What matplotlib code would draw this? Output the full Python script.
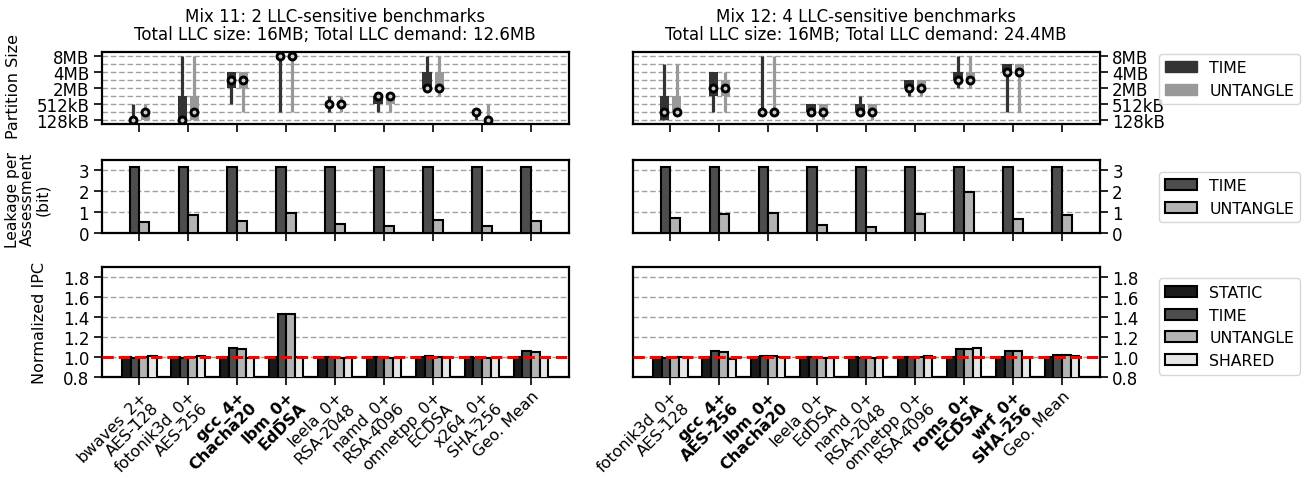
import numpy as np
import matplotlib
matplotlib.use('Agg')
import matplotlib.pyplot as plt
from matplotlib.patches import Patch

plt.rcParams.update({
    'font.family': 'DejaVu Sans',
    'font.size': 12,
    'axes.linewidth': 1.6,
    'xtick.major.width': 1.2,
    'ytick.major.width': 1.2,
    'xtick.major.size': 5.5,
    'ytick.major.size': 5.5,
    'legend.fontsize': 11.3,
})

# ---------------------------------------------------------------
# data
# ---------------------------------------------------------------
size_labels = ['128kB', '512kB', '2MB', '4MB', '8MB']   # at even indices 0..8

mix11_labels = ['bwaves_2+\nAES-128', 'fotonik3d_0+\nAES-256', 'gcc_4+\nChacha20',
                'lbm_0+\nEdDSA', 'leela_0+\nRSA-2048', 'namd_0+\nRSA-4096',
                'omnetpp_0+\nECDSA', 'x264_0+\nSHA-256', 'Geo. Mean']
mix11_bold = [2, 3]
mix12_labels = ['fotonik3d_0+\nAES-128', 'gcc_4+\nAES-256', 'lbm_0+\nChacha20',
                'leela_0+\nEdDSA', 'namd_0+\nRSA-2048', 'omnetpp_0+\nRSA-4096',
                'roms_0+\nECDSA', 'wrf_0+\nSHA-256', 'Geo. Mean']
mix12_bold = [1, 2, 6, 7]

# partition size distribution (index: 0=128kB ... 8=8MB), 8 benchmarks each
m11_time_wlo = [0, 0, 2, 1, 1, 1, 4, 0]
m11_time_whi = [2, 8, 6, 8, 3, 3, 8, 1]
m11_time_blo = [0, 0, 4, 8, 2, 2, 4, 1]
m11_time_bhi = [0, 3, 6, 8, 2, 3, 6, 1]
m11_time_mark = [0, 0, 5, 8, 2, 3, 4, 1]
m11_unt_wlo = [0, 0, 1, 1, 1, 1, 3, 0]
m11_unt_whi = [2, 8, 6, 8, 3, 3, 8, 2]
m11_unt_blo = [0, 0, 4, 8, 2, 2, 4, 0]
m11_unt_bhi = [1, 3, 6, 8, 2, 3, 6, 0]
m11_unt_mark = [1, 1, 5, 8, 2, 3, 4, 0]

m12_time_wlo = [0, 1, 1, 1, 1, 3, 4, 1]
m12_time_whi = [7, 6, 8, 2, 3, 5, 8, 7]
m12_time_blo = [0, 3, 1, 1, 1, 4, 5, 6]
m12_time_bhi = [3, 6, 1, 2, 2, 5, 6, 7]
m12_time_mark = [1, 4, 1, 1, 1, 4, 5, 6]
m12_unt_wlo = [1, 1, 1, 0, 0, 3, 4, 1]
m12_unt_whi = [7, 6, 8, 2, 2, 5, 8, 7]
m12_unt_blo = [1, 3, 1, 1, 1, 4, 5, 6]
m12_unt_bhi = [3, 5, 1, 2, 2, 5, 6, 7]
m12_unt_mark = [1, 4, 1, 1, 1, 4, 5, 6]

# leakage per assessment (bit)
m11_leak_time = [3.17, 3.17, 3.17, 3.17, 3.17, 3.17, 3.17, 3.17, 3.17]
m11_leak_unt = [0.53, 0.84, 0.56, 0.94, 0.41, 0.34, 0.62, 0.34, 0.59]
m12_leak_time = [3.17, 3.17, 3.17, 3.17, 3.17, 3.17, 3.17, 3.17, 3.17]
m12_leak_unt = [0.73, 0.91, 0.97, 0.39, 0.30, 0.91, 1.97, 0.69, 0.84]

# normalized IPC
m11_ipc_static = [1.0, 1.0, 1.0, 1.0, 1.0, 1.0, 1.0, 1.0, 1.0]
m11_ipc_time = [0.99, 0.99, 1.09, 1.43, 1.0, 1.0, 1.005, 0.99, 1.055]
m11_ipc_unt = [0.995, 1.0, 1.08, 1.43, 0.99, 0.99, 1.0, 0.985, 1.05]
m11_ipc_shared = [1.005, 1.005, 0.99, 1.0, 0.99, 0.99, 1.0, 0.99, 1.0]
m12_ipc_static = [1.0, 1.0, 1.0, 1.0, 1.0, 1.0, 1.0, 1.0, 1.0]
m12_ipc_time = [0.99, 1.054, 1.01, 1.0, 0.99, 1.0, 1.077, 1.06, 1.02]
m12_ipc_unt = [1.0, 1.045, 1.01, 0.99, 0.99, 1.0, 1.077, 1.055, 1.02]
m12_ipc_shared = [1.0, 0.98, 1.0, 0.99, 0.99, 1.005, 1.087, 0.99, 1.01]

C_BOX_T, C_BOX_U = '#333333', '#999999'
C_STATIC, C_TIME, C_UNT, C_SHARED = '#1a1a1a', '#4d4d4d', '#b3b3b3', '#e6e6e6'
GRID = dict(color='#a0a0a0', ls=(0, (4, 2)), lw=1.0)

fig = plt.figure(figsize=(13.07, 4.85), dpi=100)
W = 0.3573
cols = [0.0778, 0.4841]
rows = [(0.7416, 0.1497), (0.5175, 0.1511), (0.2216, 0.2252)]
axes = [[fig.add_axes([c, b, W, h]) for c in cols] for (b, h) in rows]

x = np.arange(9)
xb = np.arange(8)


def part_panel(ax, wlo, whi, blo, bhi, mark, dx, color):
    pos = xb + dx
    ax.vlines(pos, wlo, whi, color=color, lw=2.3, zorder=3)
    ax.bar(pos, np.array(bhi) - np.array(blo), bottom=blo, width=0.19,
           color=color, zorder=3)
    ax.plot(pos, mark, 'o', ms=5.0, mfc='#cccccc', mec='black', mew=2.1,
            zorder=4)


series_top = [
    (m11_time_wlo, m11_time_whi, m11_time_blo, m11_time_bhi, m11_time_mark,
     m11_unt_wlo, m11_unt_whi, m11_unt_blo, m11_unt_bhi, m11_unt_mark),
    (m12_time_wlo, m12_time_whi, m12_time_blo, m12_time_bhi, m12_time_mark,
     m12_unt_wlo, m12_unt_whi, m12_unt_blo, m12_unt_bhi, m12_unt_mark),
]
for j, s in enumerate(series_top):
    ax = axes[0][j]
    part_panel(ax, *s[:5], -0.125, C_BOX_T)
    part_panel(ax, *s[5:], 0.125, C_BOX_U)
    ax.set_ylim(-0.5, 8.5)
    ax.set_yticks([0, 2, 4, 6, 8])
    ax.set_yticklabels(size_labels)
    ax.set_yticks([1, 3, 5, 7], minor=True)
    ax.tick_params(axis='y', which='minor', length=0)
    ax.grid(axis='y', which='both', **GRID)

leak = [(m11_leak_time, m11_leak_unt), (m12_leak_time, m12_leak_unt)]
for j, (lt, lu) in enumerate(leak):
    ax = axes[1][j]
    ax.bar(x - 0.1, lt, width=0.2, color=C_TIME, edgecolor='black', lw=1.5,
           zorder=3)
    ax.bar(x + 0.1, lu, width=0.2, color=C_UNT, edgecolor='black', lw=1.5,
           zorder=3)
    ax.set_ylim(0, 3.5)
    ax.set_yticks([0, 1, 2, 3])
    ax.grid(axis='y', **GRID)

ipc = [(m11_ipc_static, m11_ipc_time, m11_ipc_unt, m11_ipc_shared),
       (m12_ipc_static, m12_ipc_time, m12_ipc_unt, m12_ipc_shared)]
bw = 0.175
for j, vals in enumerate(ipc):
    ax = axes[2][j]
    for k, (v, c) in enumerate(zip(vals, [C_STATIC, C_TIME, C_UNT, C_SHARED])):
        ax.bar(x + (k - 1.5) * bw, v, width=bw, color=c, edgecolor='black',
               lw=1.5, zorder=3)
    ax.axhline(1.0, color='red', ls='--', lw=2.2, zorder=5)
    ax.set_ylim(0.8, 1.9)
    ax.set_yticks([0.8, 1.0, 1.2, 1.4, 1.6, 1.8])
    ax.grid(axis='y', **GRID)

for r in range(3):
    for j in range(2):
        ax = axes[r][j]
        ax.set_axisbelow(True)
        ax.set_xlim(-0.77, 8.77)
        ax.set_xticks(x)
        if r < 2:
            ax.set_xticklabels([])
        if j == 1:
            ax.yaxis.tick_right()

for j, (labs, bold) in enumerate([(mix11_labels, mix11_bold),
                                  (mix12_labels, mix12_bold)]):
    ax = axes[2][j]
    ax.set_xticklabels(labs, rotation=45, ha='right', rotation_mode='anchor',
                       fontsize=11.5, linespacing=1.05)
    ax.tick_params(axis='x', pad=2.5)
    for i, t in enumerate(ax.get_xticklabels()):
        if i in bold:
            t.set_fontweight('bold')

axes[0][0].set_title('Mix 11: 2 LLC-sensitive benchmarks\n'
                     'Total LLC size: 16MB; Total LLC demand: 12.6MB',
                     fontsize=12, pad=9, linespacing=1.05)
axes[0][1].set_title('Mix 12: 4 LLC-sensitive benchmarks\n'
                     'Total LLC size: 16MB; Total LLC demand: 24.4MB',
                     fontsize=12, pad=9, linespacing=1.05)

axes[0][0].set_ylabel('Partition Size', fontsize=11.5)
axes[0][0].yaxis.set_label_coords(-0.173, 0.53)
axes[1][0].set_ylabel('Leakage per\nAssessment\n(bit)', fontsize=11.2,
                      linespacing=1.02)
axes[1][0].yaxis.set_label_coords(-0.11, 0.47)
axes[2][0].set_ylabel('Normalized IPC', fontsize=11.5)
axes[2][0].yaxis.set_label_coords(-0.117, 0.5)

axes[0][1].legend(handles=[Patch(color=C_BOX_T, label='TIME'),
                           Patch(color=C_BOX_U, label='UNTANGLE')],
                  loc='upper left', bbox_to_anchor=(1.11, 1.083))
axes[1][1].legend(handles=[Patch(fc=C_TIME, ec='black', lw=1.5, label='TIME'),
                           Patch(fc=C_UNT, ec='black', lw=1.5, label='UNTANGLE')],
                  loc='upper left', bbox_to_anchor=(1.11, 0.94))
axes[2][1].legend(handles=[Patch(fc=C_STATIC, ec='black', lw=1.5, label='STATIC'),
                           Patch(fc=C_TIME, ec='black', lw=1.5, label='TIME'),
                           Patch(fc=C_UNT, ec='black', lw=1.5, label='UNTANGLE'),
                           Patch(fc=C_SHARED, ec='black', lw=1.5, label='SHARED')],
                  loc='upper left', bbox_to_anchor=(1.11, 0.97))

fig.savefig('out.png', dpi=100)
